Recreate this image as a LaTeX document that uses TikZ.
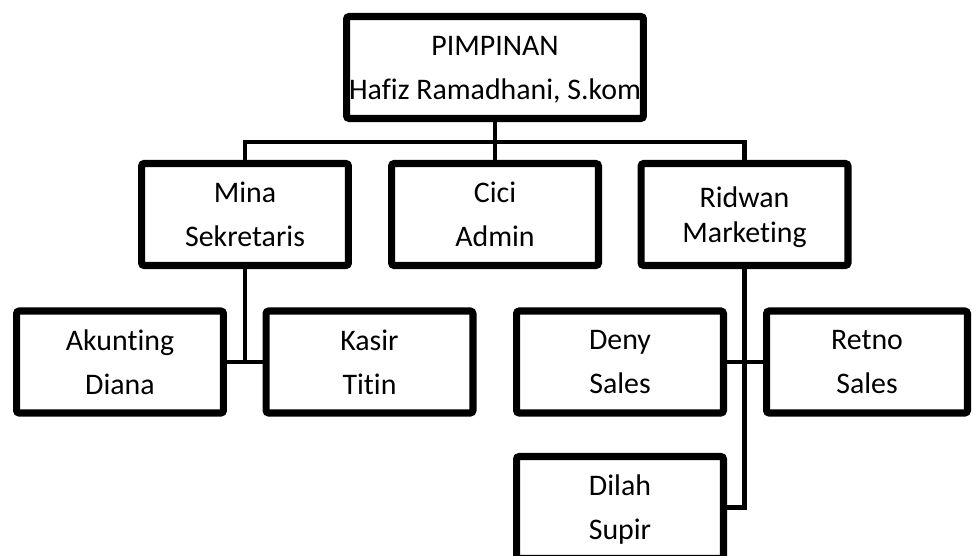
\documentclass[tikz,border=0pt]{standalone}
\usepackage{fontspec}
\setmainfont{Carlito}[Ligatures=NoCommon]
\usetikzlibrary{shadows}
\begin{document}
\begin{tikzpicture}[x=0.02cm,y=0.02cm,
  jabatan/.style={draw,line width=4pt,fill=white,rounded corners=1.5pt,
    minimum width=4.14cm,minimum height=2.04cm,align=center,inner sep=0pt,
    text depth=0pt,font=\fontsize{17}{25}\selectfont,
    drop shadow={opacity=0.25,shadow xshift=0.04cm,shadow yshift=-0.06cm}},
  garis/.style={line width=2.3pt}]
\useasboundingbox (0,0) rectangle (973,555);
% pimpinan dan staf
\node[jabatan,minimum width=5.94cm] (pimpinan) at (495,487.5) {PIMPINAN\\Hafiz Ramadhani, S.kom};
\node[jabatan] (mina) at (245,340.5) {Mina\\Sekretaris};
\node[jabatan] (cici) at (495,340.5) {Cici\\Admin};
\node[jabatan,font=\fontsize{17}{20}\selectfont] (ridwan) at (744.5,340.5) {Ridwan\\Marketing};
% bawahan
\node[jabatan] (akunting) at (120,193) {Akunting\\Diana};
\node[jabatan] (kasir) at (369.5,193) {Kasir\\Titin};
\node[jabatan] (deny) at (620,193) {Deny\\Sales};
\node[jabatan,minimum width=4.02cm] (retno) at (867,193) {Retno\\Sales};
\node[jabatan] (dilah) at (620,47.5) {Dilah\\Supir};
% garis
\coordinate (cabang) at (495,413);
\draw[garis] (pimpinan.south) -- (cici.north);
\draw[garis] (mina.north) |- (cabang) -| (ridwan.north);
\draw[garis] (mina.south) -- (mina.south |- akunting.east);
\draw[garis] (akunting.east) -- (kasir.west);
\draw[garis] (ridwan.south) |- (dilah.east);
\draw[garis] (deny.east) -- (retno.west);
\end{tikzpicture}
\end{document}
